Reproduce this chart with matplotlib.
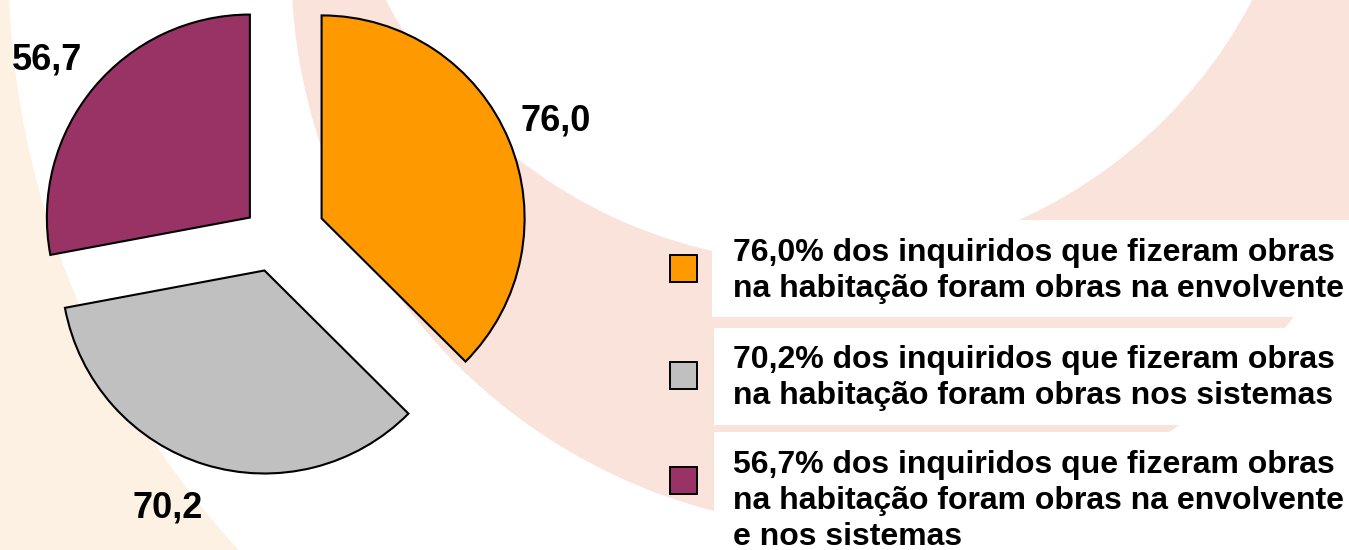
import matplotlib
matplotlib.use("Agg")
import matplotlib.pyplot as plt
from matplotlib.patches import Circle, Rectangle

plt.rcParams['font.family'] = ['Liberation Sans', 'DejaVu Sans']

# Dados
valores = [76.0, 70.2, 56.7]
rotulos = ['76,0', '70,2', '56,7']
cores = ['#FF9900', '#C0C0C0', '#993366']
legenda = [
    ['76,0% dos inquiridos que fizeram obras',
     'na habitação foram obras na envolvente'],
    ['70,2% dos inquiridos que fizeram obras',
     'na habitação foram obras nos sistemas'],
    ['56,7% dos inquiridos que fizeram obras',
     'na habitação foram obras na envolvente',
     'e nos sistemas'],
]

W, H = 1349, 550
fig = plt.figure(figsize=(W / 100, H / 100), dpi=100)
ax = fig.add_axes([0, 0, 1, 1])

# fundo decorativo (arcos suaves)
ax.add_patch(Rectangle((0, 0), W, H, color='#FCF1E2', zorder=0))
ax.add_patch(Circle((876, H + 39), 867, color='white', zorder=0.1))
ax.add_patch(Circle((854, H + 34), 562, color='#F9E3DA', zorder=0.2))
ax.add_patch(Circle((819, H + 226), 488, color='white', zorder=0.3))

# pie
wedges, textos = ax.pie(
    valores, labels=rotulos, colors=cores,
    explode=[51, 34, 32], startangle=90, counterclock=False,
    radius=203, center=(274.5, H - 238), labeldistance=1.25,
    wedgeprops=dict(edgecolor='black', linewidth=1.5),
    textprops=dict(fontsize=26, fontweight='bold', color='black'),
    frame=True)
for t in textos:
    t.set_ha('center')
    t.set_va('center')
# pequenos acertos na posição dos rótulos
textos[1].set_position((168, H - 508))
textos[2].set_position((47, H - 60))

# legenda
caixas = [(712, 220, 317), (714, 328, 425), (714, 432, 550)]
bases = [261, 368, 473]
for (x0, y0, y1), base, linhas, cor in zip(caixas, bases, legenda, cores):
    ax.add_patch(Rectangle((x0, H - y1), W - x0, y1 - y0,
                           facecolor='white', edgecolor='none', zorder=2))
    ax.add_patch(Rectangle((670, H - (base + 21)), 27, 27,
                           facecolor=cor, edgecolor='black', lw=1.4, zorder=3))
    for j, linha in enumerate(linhas):
        ax.text(733, H - (base + j * 36), linha, fontsize=23,
                fontweight='bold', va='baseline', ha='left', zorder=4)

ax.set_xlim(0, W)
ax.set_ylim(0, H)
ax.set_aspect('equal')
ax.axis('off')

fig.savefig('out.png', dpi=100)
